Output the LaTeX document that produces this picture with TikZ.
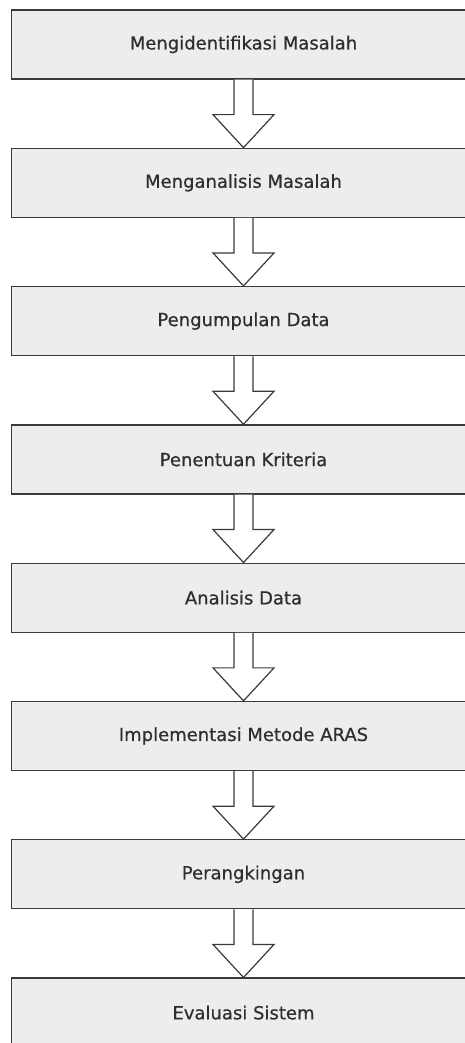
\documentclass[tikz,border=0pt]{standalone}
\usepackage{fontspec}
\setmainfont{DejaVu Sans}
\newfontface\lblfont{DejaVu Sans}[FakeBold=0.6]
\usetikzlibrary{calc}
\definecolor{boxfill}{HTML}{EDEDED}
\definecolor{boxline}{HTML}{3A3A3A}
\definecolor{txt}{HTML}{2E2E2E}
\begin{document}
\begin{tikzpicture}[x=1pt,y=1pt,
  stepbox/.style={draw=boxline, fill=boxfill, line width=1.3pt, minimum width=464pt, minimum height=69pt, inner sep=0pt, text=txt, font=\lblfont\fontsize{18}{21}\selectfont},
  blockarrow/.style={draw=boxline, fill=white, line width=1.2pt, line join=miter}]
\useasboundingbox (0,0) rectangle (464,-1043);
\foreach \i/\t in {1/Mengidentifikasi Masalah, 2/Menganalisis Masalah, 3/Pengumpulan Data, 4/Penentuan Kriteria, 5/Analisis Data, 6/Implementasi Metode ARAS, 7/Perangkingan, 8/Evaluasi Sistem} {
  \node[stepbox] (b\i) at (243.5, {-(44.5+138.3*(\i-1))}) {\t};
}
\foreach \i [evaluate=\i as \j using int(\i+1)] in {1,...,7} {
  \draw[blockarrow] ($(b\i.south)+(-9.5,0)$) -- ++(0,-35) -- ++(-21,0) -- (b\j.north) -- ($(b\i.south)+(30.5,-35)$) -- ++(-21,0) -- ($(b\i.south)+(9.5,0)$);
}
\end{tikzpicture}
\end{document}
